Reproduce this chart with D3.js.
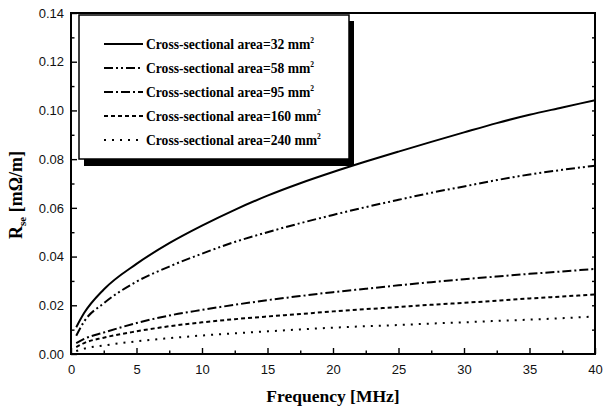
<!DOCTYPE html>
<html>
<head>
<meta charset="utf-8">
<script src="https://cdn.jsdelivr.net/npm/d3@7"></script>
<style>
  html, body { margin: 0; padding: 0; background: #fff; }
  svg { display: block; }
  .tick text { font-family: "Liberation Sans", Arial, sans-serif; font-size: 13px; fill: #111; }
</style>
</head>
<body>
<svg id="chart" width="604" height="410"></svg>
<script>
// Frequency samples (MHz) shared by all curves
const freq = [0.4, 1, 2.5, 5, 7.5, 10, 12.5, 15, 17.5, 20, 22.5, 25, 27.5, 30, 32.5, 35, 37.5, 40];

// Skin-effect resistance R_se (mΩ/m) per cross-sectional area
const area32  = [0.0110, 0.0168, 0.0265, 0.0370, 0.0455, 0.0527, 0.0592, 0.0650, 0.0701, 0.0747, 0.0790, 0.0831, 0.0871, 0.0910, 0.0948, 0.0982, 0.1012, 0.1042];
const area58  = [0.0075, 0.0133, 0.0208, 0.0297, 0.0359, 0.0412, 0.0460, 0.0500, 0.0537, 0.0571, 0.0603, 0.0633, 0.0662, 0.0688, 0.0714, 0.0737, 0.0756, 0.0773];
const area95  = [0.0045, 0.0062, 0.0088, 0.0127, 0.0158, 0.0181, 0.0202, 0.0221, 0.0238, 0.0254, 0.0268, 0.0282, 0.0295, 0.0307, 0.0318, 0.0329, 0.0339, 0.0349];
const area160 = [0.0028, 0.0045, 0.0067, 0.0093, 0.0114, 0.0130, 0.0143, 0.0154, 0.0164, 0.0175, 0.0184, 0.0193, 0.0202, 0.0210, 0.0219, 0.0228, 0.0236, 0.0244];
const area240 = [0.0012, 0.0022, 0.0035, 0.0052, 0.0065, 0.0076, 0.0085, 0.0093, 0.0101, 0.0108, 0.0114, 0.0119, 0.0125, 0.0130, 0.0136, 0.0141, 0.0147, 0.0154];

const areaLabels = ["32", "58", "95", "160", "240"];
const xTicks = [0, 5, 10, 15, 20, 25, 30, 35, 40];
const yTicks = [0, 0.02, 0.04, 0.06, 0.08, 0.10, 0.12, 0.14];

const seriesValues = [area32, area58, area95, area160, area240];
const dashes = ["none", "9,3,2,3,2,3", "9,3,2,3", "4,3", "2,6"];

const svg = d3.select("#chart");
const L = 71, R = 595, T = 13, B = 354;

const x = d3.scaleLinear().domain([0, 40]).range([L, R]);
const y = d3.scaleLinear().domain([0, 0.14]).range([B, T]);

// Minor ticks
svg.append("g").attr("transform", `translate(0,${B})`)
  .call(d3.axisBottom(x).tickValues(d3.range(2.5, 40, 5)).tickSizeInner(-3.5).tickSizeOuter(0).tickFormat(""))
  .call(g => g.select(".domain").remove());
svg.append("g").attr("transform", `translate(${L},0)`)
  .call(d3.axisLeft(y).tickValues(d3.range(0.01, 0.14, 0.02)).tickSizeInner(-3.5).tickSizeOuter(0).tickFormat(""))
  .call(g => g.select(".domain").remove());
svg.append("g").attr("transform", `translate(${R},0)`)
  .call(d3.axisRight(y).tickValues(d3.range(0.01, 0.14, 0.01)).tickSizeInner(-3).tickSizeOuter(0).tickFormat(""))
  .call(g => g.select(".domain").remove());

// Major ticks with labels
svg.append("g").attr("transform", `translate(0,${B})`)
  .call(d3.axisBottom(x).tickValues(xTicks).tickSizeInner(-6).tickSizeOuter(0).tickPadding(11).tickFormat(d3.format("d")))
  .call(g => g.select(".domain").remove());
svg.append("g").attr("transform", `translate(${L},0)`)
  .call(d3.axisLeft(y).tickValues(yTicks).tickSizeInner(-6).tickSizeOuter(0).tickPadding(7).tickFormat(d3.format(".2f")))
  .call(g => g.select(".domain").remove());

svg.selectAll(".tick line").attr("stroke", "#000").attr("stroke-width", 1.4);

// Curves
const line = d3.line()
  .x((d, i) => x(freq[i]))
  .y(d => y(d))
  .curve(d3.curveMonotoneX);

svg.append("g").selectAll("path")
  .data(seriesValues)
  .join("path")
  .attr("d", d => line(d))
  .attr("fill", "none")
  .attr("stroke", "#000")
  .attr("stroke-width", 2)
  .attr("stroke-dasharray", (d, i) => dashes[i]);

// Plot frame
svg.append("rect")
  .attr("x", L).attr("y", T).attr("width", R - L).attr("height", B - T)
  .attr("fill", "none").attr("stroke", "#000").attr("stroke-width", 2);

// Legend box with drop shadow
const lg = svg.append("g");
lg.append("rect").attr("x", 84).attr("y", 21).attr("width", 270).attr("height", 145).attr("fill", "#000");
lg.append("rect").attr("x", 79).attr("y", 15).attr("width", 270).attr("height", 144)
  .attr("fill", "#fff").attr("stroke", "#000").attr("stroke-width", 1.5);

const rows = lg.selectAll("g.row").data(areaLabels).join("g")
  .attr("class", "row")
  .attr("transform", (d, i) => `translate(0,${44 + i * 24})`);
rows.append("line")
  .attr("x1", 104).attr("x2", 143).attr("y1", 0).attr("y2", 0)
  .attr("stroke", "#000").attr("stroke-width", 2.2)
  .attr("stroke-dasharray", (d, i) => dashes[i]);
const txt = rows.append("text")
  .attr("x", 146).attr("y", 5)
  .attr("font-family", "'Liberation Serif', 'Times New Roman', serif")
  .attr("font-weight", "bold").attr("font-size", 13.6).attr("fill", "#000");
txt.append("tspan").text(d => `Cross-sectional area=${d} mm`);
txt.append("tspan").attr("dy", -6).attr("font-size", 7.5).text("2");

// Axis titles
svg.append("text")
  .attr("x", (L + R) / 2).attr("y", 402)
  .attr("text-anchor", "middle")
  .attr("font-family", "'Liberation Serif', 'Times New Roman', serif")
  .attr("font-weight", "bold").attr("font-size", 17.5)
  .text("Frequency [MHz]");

const yl = svg.append("text")
  .attr("transform", "translate(22,195) rotate(-90)")
  .attr("text-anchor", "middle")
  .attr("font-family", "'Liberation Serif', 'Times New Roman', serif")
  .attr("font-weight", "bold").attr("font-size", 18);
yl.append("tspan").text("R");
yl.append("tspan").attr("dy", 4).attr("font-size", 11).text("se");
yl.append("tspan").attr("dy", -4).text(" [mΩ/m]");
</script>
</body>
</html>
